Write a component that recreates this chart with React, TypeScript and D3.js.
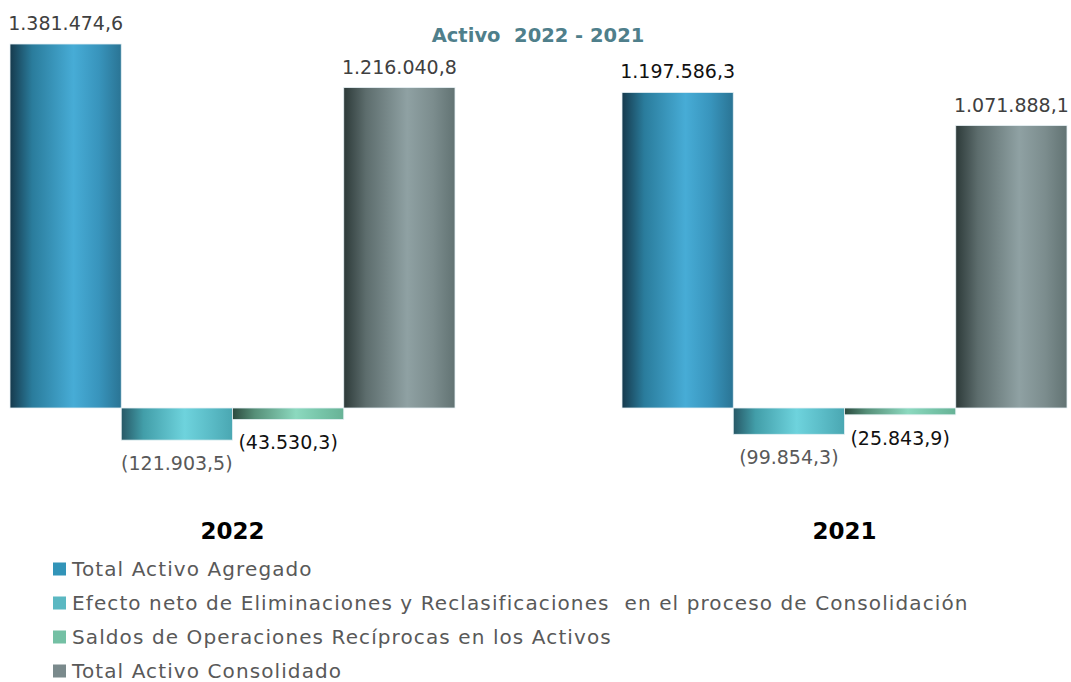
import React from "react";
import * as d3 from "d3";

const categories = ["2022", "2021"];
const seriesNames = [
  "Total Activo Agregado",
  "Efecto neto de Eliminaciones y Reclasificaciones  en el proceso de Consolidación",
  "Saldos de Operaciones Recíprocas en los Activos",
  "Total Activo Consolidado",
];
const totalAgregado = [1381474.6, 1197586.3];
const efectoNeto = [-121903.5, -99854.3];
const saldosReciprocos = [-43530.3, -25843.9];
const totalConsolidado = [1216040.8, 1071888.1];

const seriesValues = [totalAgregado, efectoNeto, saldosReciprocos, totalConsolidado];
const legendColors = ["#3294b8", "#5bb8c2", "#74c0a4", "#7a8a8c"];
const gradientStops = [
  ["#163a4d", "#2a7c9c", "#47acd6", "#3894bc", "#2a7494"],
  ["#275866", "#429ea9", "#6ed3dd", "#5bbcc7", "#4aa7b2"],
  ["#2b4a3f", "#568f78", "#8cd9bf", "#76c4a8", "#68b296"],
  ["#2d3a39", "#5d6d6d", "#8fa1a3", "#7c8d8e", "#627373"],
];
const labelColors = [
  ["#404040", "#111111"],
  ["#595959", "#595959"],
  ["#111111", "#111111"],
  ["#404040", "#404040"],
];

const W = 1071;
const H = 682;
const FONT = "'DejaVu Sans', sans-serif";

const locale = d3.formatLocale({ decimal: ",", thousands: ".", grouping: [3], currency: ["", ""] });
const fmt = locale.format(",.1f");
const fmtVal = (v: number) => (v < 0 ? `(${fmt(-v)})` : fmt(v));

export default function App() {
  const x0 = d3.scaleBand<string>().domain(categories).range([10, 1067]).paddingInner(0.2729).paddingOuter(0);
  const x1 = d3
    .scaleBand<number>()
    .domain(d3.range(seriesValues.length))
    .range([0, x0.bandwidth()])
    .padding(0);
  const maxV = d3.max(seriesValues.flat()) as number;
  const y = d3.scaleLinear().domain([0, maxV]).range([408, 44]);

  const stopOffsets = [0, 0.2, 0.57, 0.8, 1];

  return (
    <svg
      width={W}
      height={H}
      style={{ position: "absolute", left: 0, top: 0, background: "#fff" }}
      fontFamily={FONT}
    >
      <defs>
        {gradientStops.map((stops, i) => (
          <linearGradient key={i} id={`g${i}`} x1="0" x2="1" y1="0" y2="0">
            {stops.map((c, j) => (
              <stop key={j} offset={stopOffsets[j]} stopColor={c} />
            ))}
          </linearGradient>
        ))}
      </defs>

      <text
        x={538}
        y={42}
        textAnchor="middle"
        fontSize={19.5}
        fontWeight="bold"
        fill="#4f7f8b"
        style={{ whiteSpace: "pre" }}
      >
        Activo  2022 - 2021
      </text>

      {categories.map((cat, ci) => {
        const gx = x0(cat) as number;
        return (
          <g key={cat} transform={`translate(${gx},0)`}>
            {seriesValues.map((vals, si) => {
              const v = vals[ci];
              const bx = x1(si) as number;
              const top = y(Math.max(0, v));
              const bot = y(Math.min(0, v));
              const cx = bx + x1.bandwidth() / 2;
              return (
                <g key={si}>
                  <rect
                    x={bx}
                    y={top}
                    width={x1.bandwidth()}
                    height={bot - top}
                    fill={`url(#g${si})`}
                    stroke="#e6f1f4"
                    strokeWidth={0.8}
                  />
                  <text
                    x={cx}
                    y={v >= 0 ? top - 14 : bot + 30}
                    textAnchor="middle"
                    fontSize={19}
                    fill={labelColors[si][ci]}
                  >
                    {fmtVal(v)}
                  </text>
                </g>
              );
            })}
            <text
              x={x0.bandwidth() / 2}
              y={539}
              textAnchor="middle"
              fontSize={23}
              fontWeight="bold"
              fill="#000"
            >
              {cat}
            </text>
          </g>
        );
      })}

      {seriesNames.map((name, i) => {
        const cy = 569 + i * 34;
        return (
          <g key={name}>
            <rect x={53} y={cy - 6.5} width={13} height={13} fill={legendColors[i]} />
            <text
              x={72}
              y={cy + 7}
              fontSize={20}
              letterSpacing={1.1}
              fill="#595959"
              style={{ whiteSpace: "pre" }}
            >
              {name}
            </text>
          </g>
        );
      })}
    </svg>
  );
}
